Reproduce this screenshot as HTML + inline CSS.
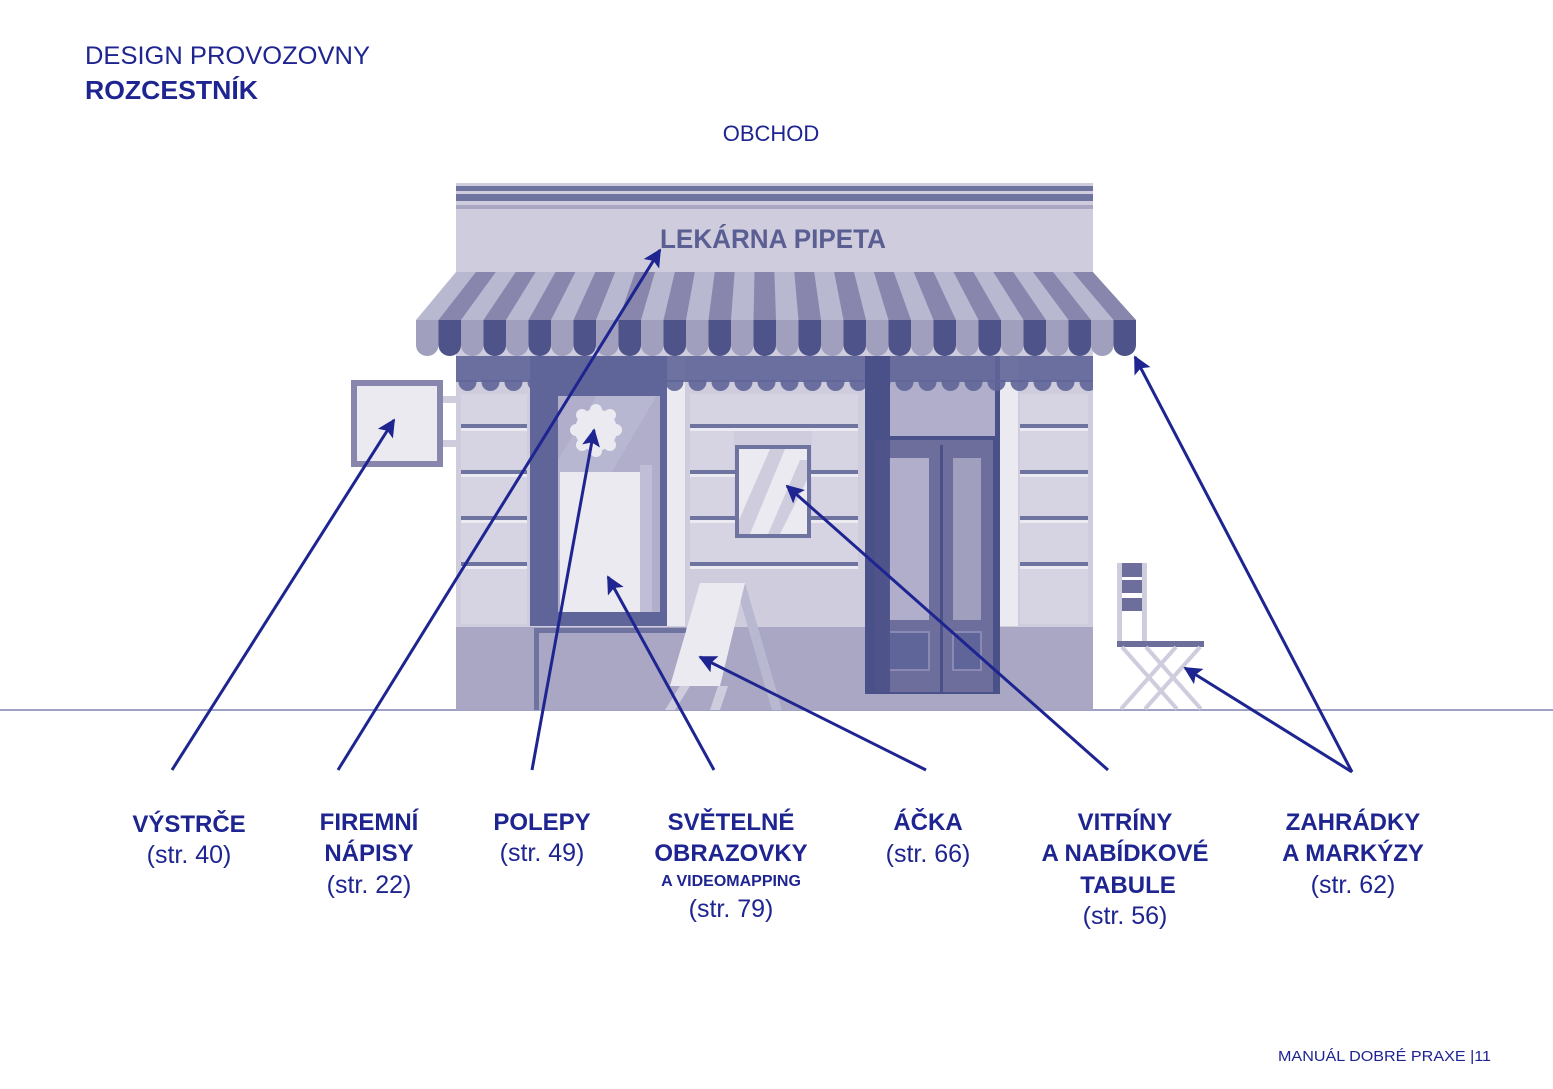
<!DOCTYPE html>
<html><head><meta charset="utf-8"><style>
html,body{margin:0;padding:0;background:#fff;}
svg{display:block}
text{font-family:"Liberation Sans","DejaVu Sans",sans-serif;}
</style></head><body>
<svg width="1553" height="1089" viewBox="0 0 1553 1089" xmlns="http://www.w3.org/2000/svg">
<defs>
<marker id="a" viewBox="0 0 10 10" refX="9" refY="5" markerWidth="18" markerHeight="18" markerUnits="userSpaceOnUse" orient="auto">
<path d="M0,0 L10,5 L0,10 L2,5 z" fill="#1e2490"/>
</marker>
<pattern id="scal" x="456" y="380" width="23" height="14" patternUnits="userSpaceOnUse">
<circle cx="11.5" cy="2" r="9" fill="#5f6598"/>
</pattern>
</defs>

<text x="85" y="64" font-size="25" fill="#1e2490" textLength="285" lengthAdjust="spacingAndGlyphs">DESIGN PROVOZOVNY</text>
<text x="85" y="99" font-size="26" font-weight="bold" fill="#1e2490" textLength="173" lengthAdjust="spacingAndGlyphs">ROZCESTNÍK</text>
<text x="771" y="141" font-size="22" fill="#1e2490" text-anchor="middle">OBCHOD</text>

<rect x="0" y="709" width="1553" height="2" fill="#9ea2c6"/>

<rect x="456" y="183" width="637" height="527" fill="#cfcddd"/>
<rect x="456" y="186" width="637" height="5" fill="#6e73a0"/>
<rect x="456" y="194" width="637" height="7" fill="#6e73a0"/>
<rect x="456" y="205" width="637" height="4" fill="#a9a7c4"/>
<text x="660" y="248" font-size="27" fill="#5a5e92" font-weight="bold" textLength="226" lengthAdjust="spacingAndGlyphs">LEKÁRNA PIPETA</text>

<rect x="456" y="627" width="637" height="83" fill="#a9a7c4"/>

<g fill="#d6d4e3">
<rect x="461" y="394" width="66" height="30"/>
<rect x="461" y="431" width="66" height="39"/>
<rect x="461" y="477" width="66" height="39"/>
<rect x="461" y="523" width="66" height="39"/>
<rect x="461" y="569" width="66" height="55"/>
<rect x="1020" y="394" width="68" height="30"/>
<rect x="1020" y="431" width="68" height="39"/>
<rect x="1020" y="477" width="68" height="39"/>
<rect x="1020" y="523" width="68" height="39"/>
<rect x="1020" y="569" width="68" height="55"/>
<rect x="690" y="394" width="168" height="30"/>
<rect x="690" y="431" width="44" height="39"/>
<rect x="812" y="431" width="46" height="39"/>
<rect x="690" y="477" width="44" height="39"/>
<rect x="812" y="477" width="46" height="39"/>
<rect x="690" y="523" width="168" height="39"/>
</g>
<g fill="#ebeaf1">
<rect x="461" y="428" width="66" height="3"/>
<rect x="461" y="474" width="66" height="3"/>
<rect x="461" y="520" width="66" height="3"/>
<rect x="461" y="566" width="66" height="3"/>
<rect x="1020" y="428" width="68" height="3"/>
<rect x="1020" y="474" width="68" height="3"/>
<rect x="1020" y="520" width="68" height="3"/>
<rect x="1020" y="566" width="68" height="3"/>
<rect x="690" y="428" width="168" height="3"/>
<rect x="690" y="474" width="168" height="3"/>
<rect x="690" y="520" width="168" height="3"/>
<rect x="690" y="566" width="168" height="3"/>
</g>
<g fill="#6e73a0">
<rect x="461" y="424" width="66" height="4"/>
<rect x="461" y="470" width="66" height="4"/>
<rect x="461" y="516" width="66" height="4"/>
<rect x="461" y="562" width="66" height="4"/>
<rect x="1020" y="424" width="68" height="4"/>
<rect x="1020" y="470" width="68" height="4"/>
<rect x="1020" y="516" width="68" height="4"/>
<rect x="1020" y="562" width="68" height="4"/>
<rect x="690" y="424" width="168" height="4"/>
<rect x="690" y="470" width="168" height="4"/>
<rect x="690" y="516" width="168" height="4"/>
<rect x="690" y="562" width="168" height="4"/>
</g>
<rect x="665" y="356" width="20" height="270" fill="#ebeaf1"/>
<rect x="1000" y="356" width="18" height="270" fill="#ebeaf1"/>

<rect x="530" y="356" width="137" height="270" fill="#5f6598"/>
<rect x="558" y="390" width="102" height="222" fill="#b0aecb"/>
<polygon points="600,390 660,390 560,560 558,560 558,460" fill="#bebcd6" opacity="0.6"/>
<rect x="560" y="472" width="80" height="140" fill="#ebeaf1"/>
<rect x="640" y="465" width="12" height="147" fill="#c0bed6"/>
<rect x="530" y="612" width="137" height="12" fill="#5f6598"/>
<circle cx="596" cy="430" r="21" fill="#ebeaf1"/>
<g fill="#ebeaf1"><circle cx="596" cy="410" r="6"/><circle cx="610" cy="415" r="6"/><circle cx="616" cy="430" r="6"/><circle cx="610" cy="445" r="6"/><circle cx="596" cy="451" r="6"/><circle cx="582" cy="445" r="6"/><circle cx="576" cy="430" r="6"/><circle cx="582" cy="415" r="6"/></g>
<rect x="534" y="628" width="152" height="5" fill="#6e73a0"/>
<rect x="534" y="628" width="5" height="82" fill="#6e73a0"/>

<rect x="735" y="445" width="76" height="93" fill="#6e73a0"/>
<rect x="739" y="449" width="68" height="85" fill="#ebeaf1"/>
<polygon points="770,449 785,449 750,534 739,534 739,520" fill="#cfcddd"/>
<polygon points="800,460 807,460 807,480 780,534 768,534" fill="#cfcddd"/>

<rect x="865" y="356" width="135" height="338" fill="#4a5088"/>
<rect x="890" y="356" width="105" height="80" fill="#b0aecb"/>
<rect x="875" y="440" width="118" height="252" fill="#6e6e9c"/>
<rect x="889" y="458" width="40" height="162" fill="#b0aecb"/>
<rect x="953" y="458" width="28" height="162" fill="#a09fbd"/>
<rect x="889" y="632" width="40" height="38" fill="#5f6598" stroke="#8a89b3" stroke-width="2"/>
<rect x="953" y="632" width="28" height="38" fill="#5f6598" stroke="#8a89b3" stroke-width="2"/>
<rect x="940" y="445" width="3" height="247" fill="#4a5088"/>
<rect x="865" y="356" width="25" height="338" fill="#4a5088" opacity="0.9"/>

<polygon points="745,583 782,710 772,710 740,600" fill="#b9b8d1"/>
<polygon points="700,583 745,583 720,686 670,686" fill="#ebeaf1"/>
<polygon points="680,686 690,686 675,710 665,710" fill="#cfcddd"/>
<polygon points="718,686 728,686 720,710 710,710" fill="#cfcddd"/>

<rect x="456" y="356" width="637" height="26" fill="#5f6598" opacity="0.9"/>
<rect x="456" y="380" width="637" height="14" fill="url(#scal)" opacity="0.9"/>
<rect x="530" y="356" width="137" height="40" fill="#5f6598"/>
<rect x="865" y="356" width="25" height="40" fill="#4a5088"/>

<polygon points="456,272 1093,272 1136,320 416,320" fill="#b9b8d1"/>
<g fill="#8886ac">
<polygon points="475.9,272 495.8,272 461,320 438.5,320"/>
<polygon points="515.7,272 535.6,272 506,320 483.5,320"/>
<polygon points="555.5,272 575.4,272 551,320 528.5,320"/>
<polygon points="595.3,272 615.2,272 596,320 573.5,320"/>
<polygon points="635.1,272 655,272 641,320 618.5,320"/>
<polygon points="674.9,272 694.8,272 686,320 663.5,320"/>
<polygon points="714.7,272 734.6,272 731,320 708.5,320"/>
<polygon points="754.5,272 774.4,272 776,320 753.5,320"/>
<polygon points="794.3,272 814.2,272 821,320 798.5,320"/>
<polygon points="834.1,272 854,272 866,320 843.5,320"/>
<polygon points="873.9,272 893.8,272 911,320 888.5,320"/>
<polygon points="913.7,272 933.6,272 956,320 933.5,320"/>
<polygon points="953.5,272 973.4,272 1001,320 978.5,320"/>
<polygon points="993.3,272 1013.2,272 1046,320 1023.5,320"/>
<polygon points="1033.1,272 1053,272 1091,320 1068.5,320"/>
<polygon points="1072.9,272 1092.8,272 1136,320 1113.5,320"/>
</g>
<rect x="416" y="320" width="720" height="24" fill="#a09fbd"/>
<g>
<rect x="416" y="330" width="22.5" height="26" rx="11" fill="#a09fbd"/><rect x="438.5" y="330" width="22.5" height="26" rx="11" fill="#4e5389"/>
<rect x="461" y="330" width="22.5" height="26" rx="11" fill="#a09fbd"/><rect x="483.5" y="330" width="22.5" height="26" rx="11" fill="#4e5389"/>
<rect x="506" y="330" width="22.5" height="26" rx="11" fill="#a09fbd"/><rect x="528.5" y="330" width="22.5" height="26" rx="11" fill="#4e5389"/>
<rect x="551" y="330" width="22.5" height="26" rx="11" fill="#a09fbd"/><rect x="573.5" y="330" width="22.5" height="26" rx="11" fill="#4e5389"/>
<rect x="596" y="330" width="22.5" height="26" rx="11" fill="#a09fbd"/><rect x="618.5" y="330" width="22.5" height="26" rx="11" fill="#4e5389"/>
<rect x="641" y="330" width="22.5" height="26" rx="11" fill="#a09fbd"/><rect x="663.5" y="330" width="22.5" height="26" rx="11" fill="#4e5389"/>
<rect x="686" y="330" width="22.5" height="26" rx="11" fill="#a09fbd"/><rect x="708.5" y="330" width="22.5" height="26" rx="11" fill="#4e5389"/>
<rect x="731" y="330" width="22.5" height="26" rx="11" fill="#a09fbd"/><rect x="753.5" y="330" width="22.5" height="26" rx="11" fill="#4e5389"/>
<rect x="776" y="330" width="22.5" height="26" rx="11" fill="#a09fbd"/><rect x="798.5" y="330" width="22.5" height="26" rx="11" fill="#4e5389"/>
<rect x="821" y="330" width="22.5" height="26" rx="11" fill="#a09fbd"/><rect x="843.5" y="330" width="22.5" height="26" rx="11" fill="#4e5389"/>
<rect x="866" y="330" width="22.5" height="26" rx="11" fill="#a09fbd"/><rect x="888.5" y="330" width="22.5" height="26" rx="11" fill="#4e5389"/>
<rect x="911" y="330" width="22.5" height="26" rx="11" fill="#a09fbd"/><rect x="933.5" y="330" width="22.5" height="26" rx="11" fill="#4e5389"/>
<rect x="956" y="330" width="22.5" height="26" rx="11" fill="#a09fbd"/><rect x="978.5" y="330" width="22.5" height="26" rx="11" fill="#4e5389"/>
<rect x="1001" y="330" width="22.5" height="26" rx="11" fill="#a09fbd"/><rect x="1023.5" y="330" width="22.5" height="26" rx="11" fill="#4e5389"/>
<rect x="1046" y="330" width="22.5" height="26" rx="11" fill="#a09fbd"/><rect x="1068.5" y="330" width="22.5" height="26" rx="11" fill="#4e5389"/>
<rect x="1091" y="330" width="22.5" height="26" rx="11" fill="#a09fbd"/><rect x="1113.5" y="330" width="22.5" height="26" rx="11" fill="#4e5389"/>
</g>
<g fill="#4e5389">
<rect x="438.5" y="320" width="22.5" height="20"/><rect x="483.5" y="320" width="22.5" height="20"/><rect x="528.5" y="320" width="22.5" height="20"/><rect x="573.5" y="320" width="22.5" height="20"/>
<rect x="618.5" y="320" width="22.5" height="20"/><rect x="663.5" y="320" width="22.5" height="20"/><rect x="708.5" y="320" width="22.5" height="20"/><rect x="753.5" y="320" width="22.5" height="20"/>
<rect x="798.5" y="320" width="22.5" height="20"/><rect x="843.5" y="320" width="22.5" height="20"/><rect x="888.5" y="320" width="22.5" height="20"/><rect x="933.5" y="320" width="22.5" height="20"/>
<rect x="978.5" y="320" width="22.5" height="20"/><rect x="1023.5" y="320" width="22.5" height="20"/><rect x="1068.5" y="320" width="22.5" height="20"/><rect x="1113.5" y="320" width="22.5" height="20"/>
</g>

<rect x="443" y="396" width="13" height="7" fill="#cfcddd"/>
<rect x="443" y="440" width="13" height="7" fill="#cfcddd"/>
<rect x="351" y="380" width="92" height="87" fill="#8886ac"/>
<rect x="357" y="386" width="80" height="75" fill="#ebeaf1"/>

<rect x="1117" y="563" width="5" height="80" fill="#cfcddd"/>
<rect x="1142" y="563" width="5" height="80" fill="#cfcddd"/>
<rect x="1122" y="563" width="20" height="14" fill="#6e6e9c"/>
<rect x="1122" y="580" width="20" height="13" fill="#6e6e9c"/>
<rect x="1122" y="598" width="20" height="13" fill="#6e6e9c"/>
<rect x="1117" y="641" width="87" height="6" fill="#6e6e9c"/>
<g stroke="#cfcddd" stroke-width="4">
<line x1="1122" y1="647" x2="1177" y2="709"/>
<line x1="1146" y1="647" x2="1201" y2="709"/>
<line x1="1200" y1="647" x2="1145" y2="709"/>
<line x1="1176" y1="647" x2="1121" y2="709"/>
</g>

<g stroke="#1e2490" stroke-width="3" fill="none" marker-end="url(#a)">
<line x1="172" y1="770" x2="394" y2="420"/>
<line x1="338" y1="770" x2="660" y2="250"/>
<line x1="532" y1="770" x2="594" y2="430"/>
<line x1="714" y1="770" x2="608" y2="577"/>
<line x1="926" y1="770" x2="700" y2="657"/>
<line x1="1108" y1="770" x2="787" y2="486"/>
<line x1="1352" y1="772" x2="1185" y2="668"/>
<line x1="1352" y1="772" x2="1135" y2="357"/>
</g>

<g fill="#1e2490" text-anchor="middle">
<g font-weight="bold" font-size="24">
<text x="189" y="832">VÝSTRČE</text>
<text x="369" y="830">FIREMNÍ</text>
<text x="369" y="861">NÁPISY</text>
<text x="542" y="830">POLEPY</text>
<text x="731" y="830">SVĚTELNÉ</text>
<text x="731" y="861">OBRAZOVKY</text>
<text x="928" y="830">ÁČKA</text>
<text x="1125" y="830">VITRÍNY</text>
<text x="1125" y="861">A NABÍDKOVÉ</text>
<text x="1128" y="893">TABULE</text>
<text x="1353" y="830">ZAHRÁDKY</text>
<text x="1353" y="861">A MARKÝZY</text>
</g>
<text x="731" y="886" font-weight="bold" font-size="16">A VIDEOMAPPING</text>
<g font-size="25">
<text x="189" y="863">(str. 40)</text>
<text x="369" y="893">(str. 22)</text>
<text x="542" y="861">(str. 49)</text>
<text x="731" y="917">(str. 79)</text>
<text x="928" y="862">(str. 66)</text>
<text x="1125" y="924">(str. 56)</text>
<text x="1353" y="893">(str. 62)</text>
</g>
</g>

<text x="1278" y="1061" font-size="15" fill="#1e2490" textLength="213" lengthAdjust="spacingAndGlyphs">MANUÁL DOBRÉ PRAXE |11</text>
</svg>
</body></html>
